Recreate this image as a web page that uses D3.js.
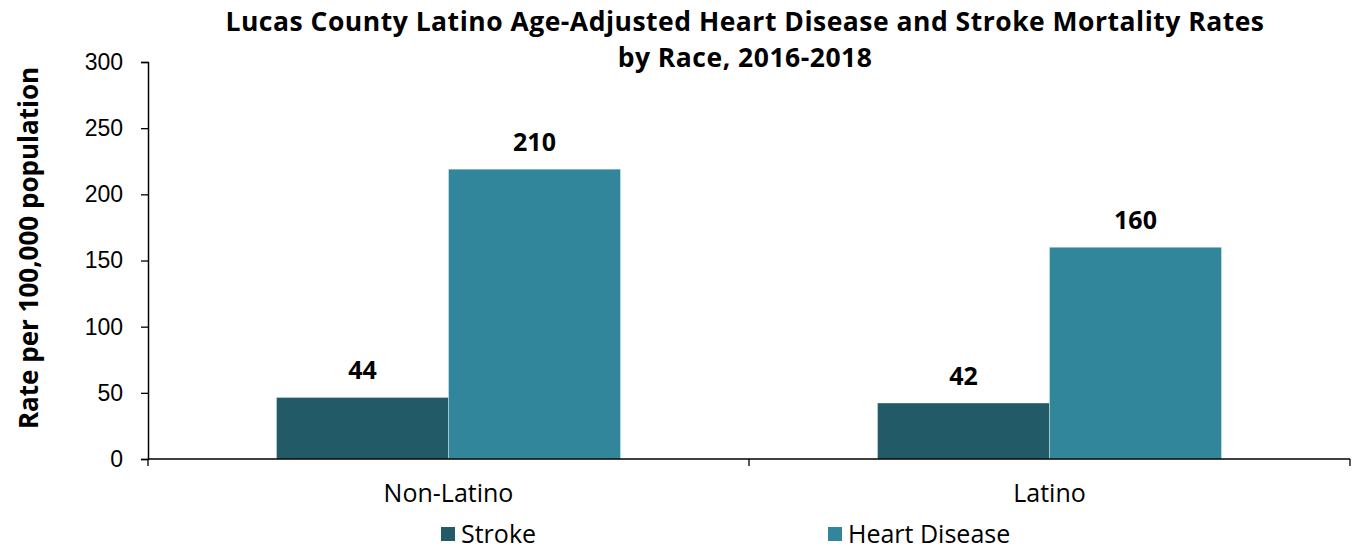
<!DOCTYPE html>
<html>
<head>
<meta charset="utf-8">
<script src="https://cdnjs.cloudflare.com/ajax/libs/d3/7.8.5/d3.min.js"></script>
<style>
    body { margin: 0; background: #fff; }
    svg { display: block; font-family: "Open Sans", "Noto Sans", sans-serif; }
    .tick text { font-size: 23px; fill: #000; }
    .title { font-size: 26.5px; font-weight: bold; letter-spacing: 0.5px; }
    .axis-label { font-size: 26px; font-weight: bold; }
    .value-label { font-size: 25px; font-weight: bold; }
    .cat-label { font-size: 25px; }
    .legend-text { font-size: 25px; }
</style>
</head>
<body>
<svg id="chart" width="1356" height="550"></svg>
<script>
// Данные
const groups = ['Non-Latino', 'Latino'];
const seriesNames = ['Stroke', 'Heart Disease'];
const seriesColors = ['#225A68', '#31869B'];
// высоты столбцов, как на картинке
const strokeValues = [46.5, 42.3];
const heartValues = [219, 160];
// подписи над столбцами
const strokeLabels = ['44', '42'];
const heartLabels = ['210', '160'];
const yTicks = [0, 50, 100, 150, 200, 250, 300];

const svg = d3.select('#chart');
const margin = { top: 62, right: 6, bottom: 91, left: 148 };
const width = 1356 - margin.left - margin.right;
const height = 550 - margin.top - margin.bottom;

const g = svg.append('g')
    .attr('transform', `translate(${margin.left},${margin.top})`);

const x0 = d3.scaleBand().domain(groups).range([0, width]).padding(0);
const inner = x0.bandwidth() * 0.2138;
const x1 = d3.scaleBand().domain(seriesNames)
    .range([inner, x0.bandwidth() - inner]).padding(0);
const y = d3.scaleLinear().domain([0, 300]).range([height, 0]);

const rows = groups.map((grp, i) => ({
    group: grp,
    items: [
        { name: seriesNames[0], value: strokeValues[i], label: strokeLabels[i], color: seriesColors[0] },
        { name: seriesNames[1], value: heartValues[i], label: heartLabels[i], color: seriesColors[1] }
    ]
}));

// Столбцы
const grp = g.selectAll('.grp')
    .data(rows)
    .enter()
    .append('g')
    .attr('transform', d => `translate(${x0(d.group)},0)`);

grp.selectAll('rect')
    .data(d => d.items)
    .enter()
    .append('rect')
    .attr('x', d => x1(d.name))
    .attr('y', d => y(d.value))
    .attr('width', x1.bandwidth())
    .attr('height', d => height - y(d.value))
    .attr('fill', d => d.color)
    .attr('stroke', '#ffffff')
    .attr('stroke-opacity', 0.35)
    .attr('stroke-width', 1);

grp.selectAll('.value-label')
    .data(d => d.items)
    .enter()
    .append('text')
    .attr('class', 'value-label')
    .attr('x', d => x1(d.name) + x1.bandwidth() / 2)
    .attr('y', d => y(d.value) - 18)
    .attr('text-anchor', 'middle')
    .text(d => d.label);

// Ось Y
const yAxis = g.append('g')
    .call(d3.axisLeft(y).tickValues(yTicks).tickSize(7).tickPadding(18));
yAxis.select('.domain').attr('stroke', '#000').attr('stroke-width', 1.5);
yAxis.selectAll('.tick line').attr('stroke', '#000').attr('stroke-width', 1.3);

// Ось X
const xAxis = g.append('g')
    .attr('transform', `translate(0,${height})`);
xAxis.append('line')
    .attr('x1', 0).attr('x2', width)
    .attr('y1', 0).attr('y2', 0)
    .attr('stroke', '#000').attr('stroke-width', 1.5);
xAxis.selectAll('.xtick')
    .data([0, x0.bandwidth(), width])
    .enter()
    .append('line')
    .attr('x1', d => d).attr('x2', d => d)
    .attr('y1', 0).attr('y2', 7)
    .attr('stroke', '#000').attr('stroke-width', 1.3);
xAxis.selectAll('.cat-label')
    .data(groups)
    .enter()
    .append('text')
    .attr('class', 'cat-label')
    .attr('x', d => x0(d) + x0.bandwidth() / 2)
    .attr('y', 43)
    .attr('text-anchor', 'middle')
    .text(d => d);

// Заголовок
const title = svg.append('text')
    .attr('class', 'title')
    .attr('text-anchor', 'middle');
title.append('tspan').attr('x', 745).attr('y', 31)
    .text('Lucas County Latino Age-Adjusted Heart Disease and Stroke Mortality Rates');
title.append('tspan').attr('x', 745).attr('y', 67)
    .text('by Race, 2016-2018');

// Подпись оси Y
svg.append('text')
    .attr('class', 'axis-label')
    .attr('transform', 'rotate(-90)')
    .attr('x', -248)
    .attr('y', 38)
    .attr('text-anchor', 'middle')
    .text('Rate per 100,000 population');

// Легенда
const legendX = [441, 828];
const legend = svg.selectAll('.legend')
    .data(seriesNames)
    .enter()
    .append('g')
    .attr('transform', (d, i) => `translate(${legendX[i]},527)`);
legend.append('rect')
    .attr('width', 14).attr('height', 14)
    .attr('fill', (d, i) => seriesColors[i]);
legend.append('text')
    .attr('class', 'legend-text')
    .attr('x', 20)
    .attr('y', 16)
    .text(d => d);
</script>
</body>
</html>
